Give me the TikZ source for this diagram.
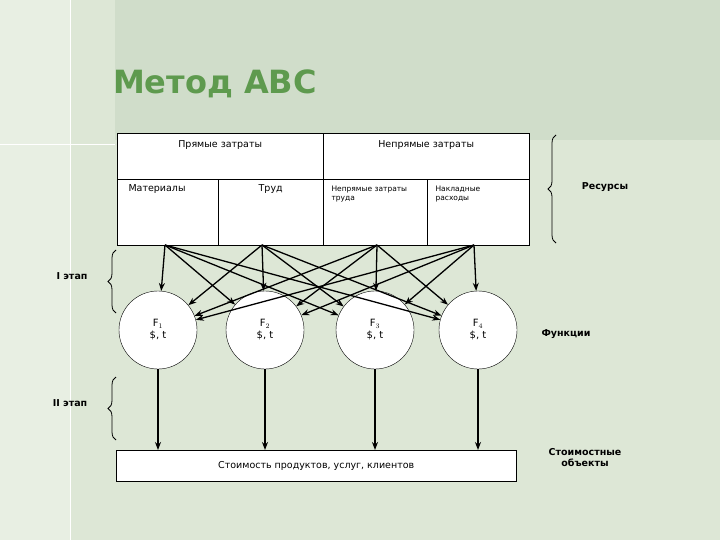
\documentclass[tikz,border=0pt]{standalone}
\usepackage{fontspec}
\setmainfont{DejaVu Sans}
\usetikzlibrary{arrows.meta}
\usetikzlibrary{positioning}
\usetikzlibrary{decorations.pathreplacing}
\definecolor{bgmain}{HTML}{DDE7D6}
\definecolor{bgband}{HTML}{D0DDCA}
\definecolor{bgleft}{HTML}{E8EFE3}
\definecolor{titlegreen}{HTML}{5E9A4E}
\begin{document}
\begin{tikzpicture}[x=1pt,y=-1pt]
      \tikzstyle{every node}=[font=\fontsize{9.5}{11}\selectfont]
      \tikzstyle{cell}=[draw,fill=white,thin,anchor=north west,inner sep=0pt]
      \tikzstyle{func}=[draw,circle,fill=white,minimum size=78pt,inner sep=0pt,align=center,font=\fontsize{10}{12}\selectfont]
      \tikzstyle{flow}=[-{Stealth[length=8pt,width=6pt]},line width=1.3pt]
      \tikzstyle{brace}=[decorate,decoration={brace,amplitude=8pt},line width=0.8pt]
      \tikzstyle{label}=[font=\bfseries\fontsize{9.5}{11}\selectfont]

      % background
      \useasboundingbox (0,0) rectangle (720,540);
      \fill[bgmain] (0,0) rectangle (720,540);
      \fill[bgband] (115,0) rectangle (720,140);
      \fill[bgleft] (0,0) rectangle (70,540);
      \draw[white,line width=1pt] (70,0) -- (70,540);
      \draw[white,line width=1pt] (0,145) -- (115,145);
      \node[text=titlegreen,font=\bfseries\fontsize{32}{34}\selectfont] (title) at (215,84) {Метод АВС};

      % resources table
      \node[cell,minimum width=206pt,minimum height=46pt] (direct) at (117,133) {};
      \node[cell,minimum width=206pt,minimum height=46pt] (indirect) at (323,133) {};
      \node[cell,minimum width=101pt,minimum height=66pt] (mat) at (117,179) {};
      \node[cell,minimum width=105pt,minimum height=66pt] (labour) at (218,179) {};
      \node[cell,minimum width=104pt,minimum height=66pt] (ilab) at (323,179) {};
      \node[cell,minimum width=102pt,minimum height=66pt] (over) at (427,179) {};
      \node[anchor=north] at (direct.north) [yshift=-4pt] {Прямые затраты};
      \node[anchor=north] at (indirect.north) [yshift=-4pt] {Непрямые затраты};
      \node[anchor=north west] at (mat.north west) [xshift=8pt,yshift=-2pt] {Материалы};
      \node[anchor=north] at (labour.north) [yshift=-2pt] {Труд};
      \node[anchor=north west,align=left,font=\fontsize{7.5}{9}\selectfont] at (ilab.north west) [xshift=5pt,yshift=-3pt] {Непрямые затраты\\труда};
      \node[anchor=north west,align=left,font=\fontsize{7.5}{9}\selectfont] at (over.north west) [xshift=5pt,yshift=-3pt] {Накладные\\расходы};

      % functions
      \node[func] (f1) at (158,330) {F$_1$\\\$, t};
      \node[func] (f2) at (265,330) {F$_2$\\\$, t};
      \node[func] (f3) at (375,330) {F$_3$\\\$, t};
      \node[func] (f4) at (478,330) {F$_4$\\\$, t};

      % cost objects
      \node[cell,minimum width=400pt,minimum height=31pt] (obj) at (116,450) {};
      \node at (obj.center) {Стоимость продуктов, услуг, клиентов};

      % resource sources
      \coordinate (s1) at (165,245);
      \coordinate (s2) at (262,245);
      \coordinate (s3) at (377,245);
      \coordinate (s4) at (474,245);
      \foreach \s in {s1,s2,s3,s4}
        \foreach \f in {f1,f2,f3,f4}
          \draw[flow] (\s) -- (\f);

      \foreach \f in {f1,f2,f3,f4}
        \draw[flow] (\f.south) -- (\f.south |- obj.north);

      % braces and labels
      \draw[brace] (556,243) -- (556,135);
      \node[label] (res) at (605,187) {Ресурсы};
      \draw[brace] (116,313) -- (116,250);
      \node[label] (st1) at (72,276) {I этап};
      \draw[brace] (116,440) -- (116,377);
      \node[label] (st2) at (70,403) {II этап};
      \node[label] (fun) at (566,334) {Функции};
      \node[label,align=center] (cobj) at (585,458) {Стоимостные\\объекты};
    \end{tikzpicture}
\end{document}
